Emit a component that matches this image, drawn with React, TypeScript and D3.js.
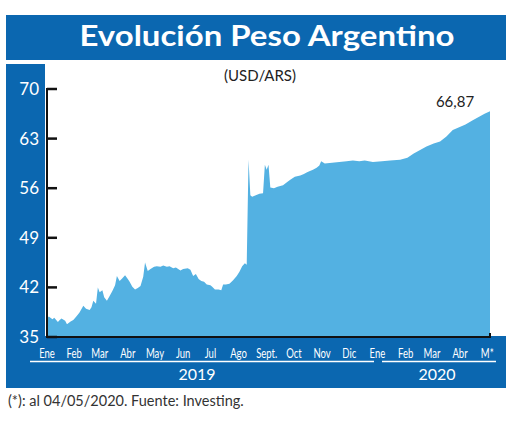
import React from 'react';
import * as d3 from 'd3';

// daily USD/ARS close, Jan 2019 - May 2020
const dates = [
  '2019-01-02', '2019-01-04', '2019-01-08', '2019-01-10', '2019-01-14', '2019-01-16', '2019-01-18',
  '2019-01-22', '2019-01-24', '2019-01-28', '2019-01-31', '2019-02-04', '2019-02-07', '2019-02-11',
  '2019-02-14', '2019-02-18', '2019-02-20', '2019-02-22', '2019-02-25', '2019-02-27', '2019-03-01',
  '2019-03-04', '2019-03-06', '2019-03-09', '2019-03-12', '2019-03-15', '2019-03-18', '2019-03-20',
  '2019-03-23', '2019-03-26', '2019-03-29', '2019-04-01', '2019-04-03', '2019-04-06', '2019-04-09',
  '2019-04-12', '2019-04-15', '2019-04-18', '2019-04-20', '2019-04-23', '2019-04-26', '2019-04-30',
  '2019-05-03', '2019-05-07', '2019-05-10', '2019-05-14', '2019-05-17', '2019-05-21', '2019-05-24',
  '2019-05-29', '2019-06-01', '2019-06-06', '2019-06-09', '2019-06-12', '2019-06-15', '2019-06-18',
  '2019-06-21', '2019-06-24', '2019-06-27', '2019-07-01', '2019-07-03', '2019-07-06', '2019-07-10',
  '2019-07-13', '2019-07-15', '2019-07-18', '2019-07-22', '2019-07-26', '2019-07-30', '2019-08-02',
  '2019-08-05', '2019-08-08', '2019-08-10', '2019-08-12', '2019-08-14', '2019-08-16', '2019-08-20',
  '2019-08-24', '2019-08-28', '2019-08-30', '2019-09-01', '2019-09-03', '2019-09-05', '2019-09-09',
  '2019-09-13', '2019-09-19', '2019-09-24', '2019-09-27', '2019-10-02', '2019-10-08', '2019-10-12',
  '2019-10-15', '2019-10-18', '2019-10-22', '2019-10-26', '2019-10-29', '2019-10-31', '2019-11-04',
  '2019-11-12', '2019-11-20', '2019-11-28', '2019-12-05', '2019-12-12', '2019-12-18', '2019-12-27',
  '2020-01-06', '2020-01-15', '2020-01-26', '2020-02-03', '2020-02-10', '2020-02-17', '2020-02-24',
  '2020-03-03', '2020-03-10', '2020-03-17', '2020-03-24', '2020-03-31', '2020-04-07', '2020-04-15',
  '2020-04-22', '2020-04-28', '2020-05-04',
];

const rates = [
  37.6, 37.9, 37.5, 37.7, 37.1, 37.4, 37.6,
  37.3, 36.8, 37.2, 37.4, 38.0, 38.5, 39.4,
  39.0, 38.8, 39.2, 40.1, 39.7, 42.0, 41.3,
  41.6, 40.6, 40.1, 40.8, 41.5, 42.3, 43.6,
  42.9, 43.3, 43.7, 43.2, 42.8, 42.1, 41.7,
  41.9, 42.2, 43.5, 45.5, 44.3, 44.6, 44.9,
  45.0, 44.9, 45.1, 44.9, 45.0, 44.7, 44.8,
  44.4, 44.6, 44.7, 44.5, 43.6, 43.9, 43.2,
  42.9, 42.8, 42.4, 42.3, 42.1, 41.7, 41.7,
  41.6, 42.4, 42.4, 42.5, 43.0, 43.6, 44.2,
  45.0, 45.4, 45.2, 60.0, 55.0, 54.8, 55.0,
  55.2, 55.3, 59.3, 58.6, 59.3, 56.1, 56.0,
  56.2, 56.4, 56.9, 57.2, 57.6, 57.8, 58.0,
  58.2, 58.4, 58.6, 58.9, 59.2, 59.8, 59.5,
  59.6, 59.7, 59.8, 59.9, 59.8, 59.9, 59.7,
  59.8, 59.9, 60.0, 60.3, 60.9, 61.4, 61.9,
  62.3, 62.6, 63.3, 64.2, 64.6, 65.0, 65.6,
  66.1, 66.5, 66.87,
];

const yTicks = [35, 42, 49, 56, 63, 70];

const monthLabels = ['Ene', 'Feb', 'Mar', 'Abr', 'May', 'Jun', 'Jul', 'Ago', 'Sept.', 'Oct', 'Nov', 'Dic',
  'Ene', 'Feb', 'Mar', 'Abr', 'M*'];
const monthDates = ['2019-01-02', '2019-02-01', '2019-03-01', '2019-04-01', '2019-05-01', '2019-06-01',
  '2019-07-01', '2019-08-01', '2019-09-01', '2019-10-01', '2019-11-01', '2019-12-01', '2020-01-01',
  '2020-02-01', '2020-03-01', '2020-04-01', '2020-05-01'];

const lastLabel = '66,87';

const DARK_BLUE = '#0b67b0';
const AREA_BLUE = '#53b1e2';
const FONT = 'Lato, "Open Sans", sans-serif';

const App = () => {
  const parse = d3.timeParse('%Y-%m-%d');
  const data = dates.map((d, i) => ({ date: parse(d) as Date, value: rates[i] }));

  const x = d3.scaleTime()
    .domain(d3.extent(data, d => d.date) as [Date, Date])
    .range([47, 490]);

  const y = d3.scaleLinear()
    .domain([35, 70])
    .range([337, 89]);

  const area = d3.area<{ date: Date; value: number }>()
    .x(d => x(d.date))
    .y0(y(35))
    .y1(d => y(d.value));

  const last = data[data.length - 1];

  return (
    <svg width={520} height={433} style={{ position: 'absolute', left: 0, top: 0, background: '#fff' }}>
      {/* title band */}
      <rect x={6} y={15} width={500} height={45} fill={DARK_BLUE} />
      <text x={267} y={46} textAnchor="middle" fill="#fff" fontFamily={FONT} fontWeight="bold"
        fontSize={28} textLength={375} lengthAdjust="spacingAndGlyphs">
        Evolución Peso Argentino
      </text>

      {/* frame: left strip and bottom band */}
      <rect x={6} y={64} width={39} height={324} fill={DARK_BLUE} />
      <rect x={6} y={336} width={500} height={52} fill={DARK_BLUE} />

      <text x={260} y={81} textAnchor="middle" fill="#222" fontFamily={FONT} fontSize={15}>(USD/ARS)</text>

      <path d={area(data) || ''} fill={AREA_BLUE} />

      {/* axes */}
      <line x1={47} x2={47} y1={y(70) - 1} y2={y(35) + 1} stroke="#111" strokeWidth={2} />
      <line x1={46} x2={490} y1={y(35)} y2={y(35)} stroke="#111" strokeWidth={2} />
      <line x1={490} x2={490} y1={y(35) + 1} y2={y(35) - 4} stroke="#111" strokeWidth={2} />
      {yTicks.map(t => (
        <g key={t}>
          <line x1={47} x2={57} y1={y(t)} y2={y(t)} stroke="#111" strokeWidth={2.5} />
          <text x={39} y={y(t) + 6} textAnchor="end" fill="#fff" fontFamily={FONT} fontSize={17}>{t}</text>
        </g>
      ))}

      {/* condensed month labels */}
      {monthLabels.map((m, i) => (
        <g key={i} transform={`translate(${x(parse(monthDates[i]) as Date)},358) scale(0.68,1)`}>
          <text textAnchor="middle" fill="#fff" fontFamily={FONT} fontSize={14}>{m}</text>
        </g>
      ))}

      <line x1={30} x2={374} y1={361.5} y2={361.5} stroke="#fff" strokeWidth={1.5} />
      <line x1={382} x2={496} y1={361.5} y2={361.5} stroke="#fff" strokeWidth={1.5} />
      <text x={197} y={380} textAnchor="middle" fill="#fff" fontFamily={FONT} fontSize={16}>2019</text>
      <text x={437} y={380} textAnchor="middle" fill="#fff" fontFamily={FONT} fontSize={16}>2020</text>

      <text x={x(last.date) - 35} y={y(last.value) - 4} textAnchor="middle" fill="#222" fontFamily={FONT}
        fontSize={15}>{lastLabel}</text>

      <text x={8} y={406} fill="#333" fontFamily={FONT} fontSize={14.5}>(*): al 04/05/2020. Fuente: Investing.</text>
    </svg>
  );
};

export default App;
